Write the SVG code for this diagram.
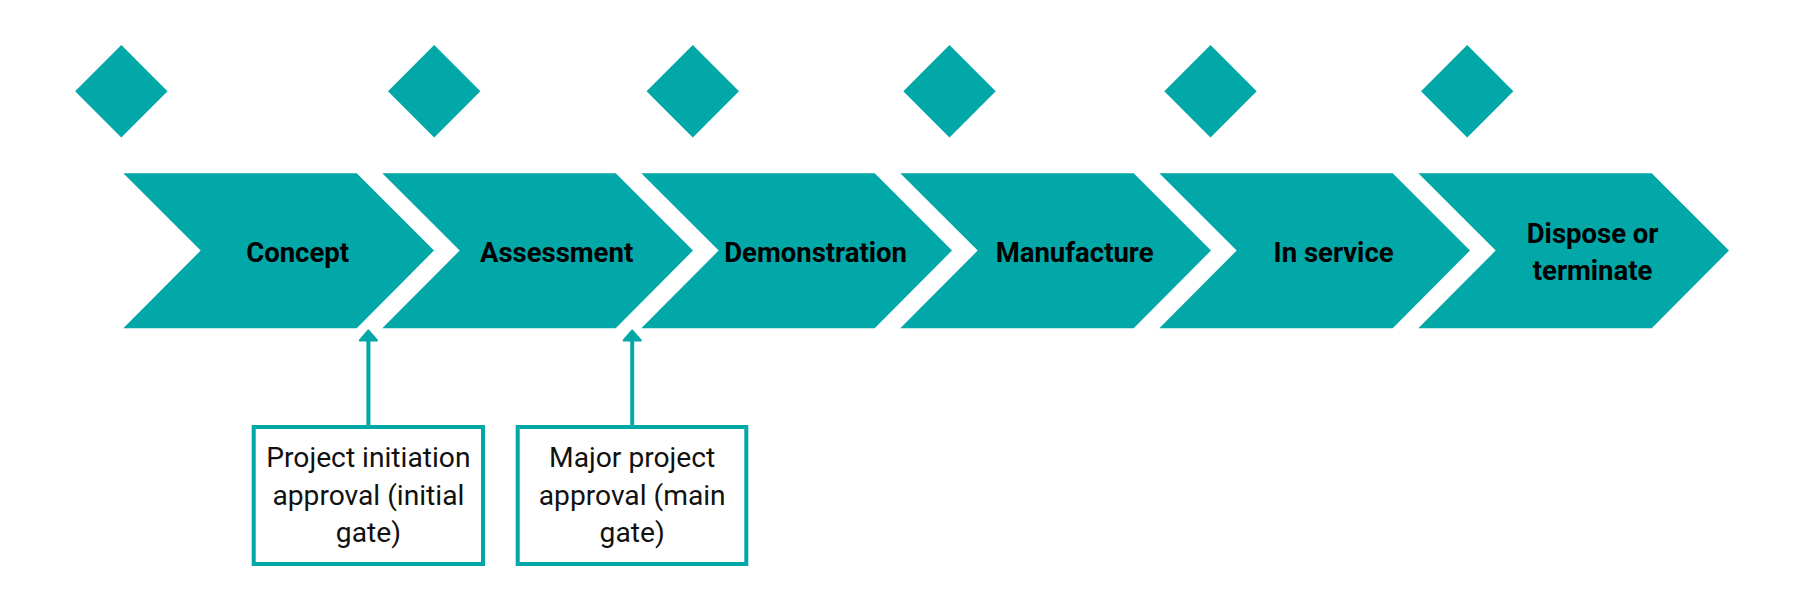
<svg xmlns="http://www.w3.org/2000/svg" width="1810" height="610" viewBox="0 0 1810 610">
<style>
.fill{fill:#02A7A8;}
.stage{font-family:Roboto,"Liberation Sans",sans-serif;font-weight:bold;font-size:27.5px;fill:#000;text-anchor:middle;}
.note{font-family:Roboto,"Liberation Sans",sans-serif;font-size:28.2px;fill:#111;text-anchor:middle;}
.box{fill:#fff;stroke:#02A7A8;stroke-width:4;}
.conn{stroke:#02A7A8;stroke-width:4;fill:none;}
</style>
<defs>
<polygon id="dia" points="0,-46.2 46.2,0 0,46.2 -46.2,0"/>
<polygon id="chev" points="0,0 233.4,0 310.7,77.2 233.4,155 0,155 77.4,77.2"/>
</defs>
<rect width="1810" height="610" fill="#fff"/>
<g id="gates" class="fill">
<use href="#dia" x="121.3" y="91.2"/>
<use href="#dia" x="434.2" y="91.2"/>
<use href="#dia" x="692.8" y="91.2"/>
<use href="#dia" x="949.5" y="91.2"/>
<use href="#dia" x="1210.5" y="91.2"/>
<use href="#dia" x="1467.2" y="91.2"/>
</g>
<g id="concept"><use href="#chev" class="fill" x="123.3" y="173.3"/><text class="stage" x="297.6" y="261.7">Concept</text></g>
<g id="assessment"><use href="#chev" class="fill" x="382.3" y="173.3"/><text class="stage" x="556.6" y="261.7">Assessment</text></g>
<g id="demonstration"><use href="#chev" class="fill" x="641.3" y="173.3"/><text class="stage" x="815.6" y="261.7">Demonstration</text></g>
<g id="manufacture"><use href="#chev" class="fill" x="900.3" y="173.3"/><text class="stage" x="1074.6" y="261.7">Manufacture</text></g>
<g id="inservice"><use href="#chev" class="fill" x="1159.3" y="173.3"/><text class="stage" x="1333.6" y="261.7">In service</text></g>
<g id="dispose"><use href="#chev" class="fill" x="1418.3" y="173.3"/><text class="stage" x="1592.6" y="242.5">Dispose or</text><text class="stage" x="1592.6" y="279.5">terminate</text></g>
<g id="connectors">
<line class="conn" x1="368.4" y1="425" x2="368.4" y2="339"/>
<polygon points="368.4,330.5 377,340.5 359.8,340.5" fill="#02A7A8" stroke="#02A7A8" stroke-width="2" stroke-linejoin="round"/>
<line class="conn" x1="632.2" y1="425" x2="632.2" y2="339"/>
<polygon points="632.2,330.5 640.8,340.5 623.6,340.5" fill="#02A7A8" stroke="#02A7A8" stroke-width="2" stroke-linejoin="round"/>
</g>
<g id="initialgate">
<rect class="box" x="253.7" y="427" width="229.3" height="137"/>
<text class="note" x="368.4" y="467">Project initiation</text>
<text class="note" x="368.4" y="504.5">approval (initial</text>
<text class="note" x="368.4" y="542">gate)</text>
</g>
<g id="maingate">
<rect class="box" x="517.7" y="427" width="228.6" height="137"/>
<text class="note" x="632.2" y="467">Major project</text>
<text class="note" x="632.2" y="504.5">approval (main</text>
<text class="note" x="632.2" y="542">gate)</text>
</g>
</svg>
